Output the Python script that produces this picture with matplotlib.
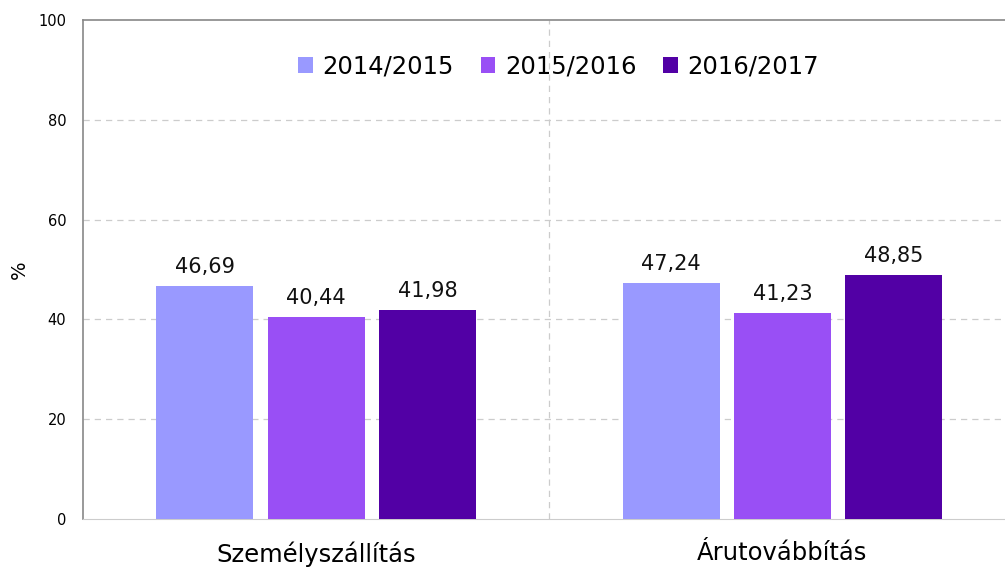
import numpy as np
import matplotlib
matplotlib.use('Agg')
import matplotlib.pyplot as plt

# adatok
kategoriak = ['Személyszállítás', 'Árutovábbítás']
evek = ['2014/2015', '2015/2016', '2016/2017']
ertekek_2014 = [46.69, 47.24]
ertekek_2015 = [40.44, 41.23]
ertekek_2016 = [41.98, 48.85]
szinek = ['#9999ff', '#994ff5', '#5200a5']

sorozatok = [ertekek_2014, ertekek_2015, ertekek_2016]

fig = plt.figure(figsize=(10.05, 5.67), dpi=100)
ax = fig.add_axes([0.0826, 0.0847, 0.928, 0.880])

x = np.arange(len(kategoriak))
w = 0.208
lepes = 0.239

for i, (vals, szin, ev) in enumerate(zip(sorozatok, szinek, evek)):
    pos = x + (i - 1) * lepes
    ax.bar(pos, vals, w, color=szin, label=ev, zorder=3)
    for p, v in zip(pos, vals):
        ax.text(p, v + 1.8, ('%.2f' % v).replace('.', ','), ha='center', va='bottom',
                fontsize=15, color='#111111', zorder=4)

ax.set_xlim(-0.5, 1.5)
ax.set_ylim(0, 100)
ax.set_yticks([0, 20, 40, 60, 80, 100])
ax.set_xticks(x)
ax.set_xticklabels(kategoriak, fontsize=17.5)
ax.tick_params(axis='y', labelsize=10.5, length=0, pad=12)
ax.tick_params(axis='x', length=0, pad=16)
ax.set_ylabel('%', fontsize=14, labelpad=7)

# racs
for yv in [20, 40, 60, 80]:
    ax.axhline(yv, color='#cccccc', linestyle=(0, (5, 4)), linewidth=0.9, zorder=1)
ax.axvline(0.5, color='#cccccc', linestyle=(0, (5, 4)), linewidth=0.9, zorder=1)

ax.spines['left'].set_color('#888888')
ax.spines['top'].set_color('#888888')
ax.spines['bottom'].set_color('#cccccc')
ax.spines['right'].set_visible(False)
for s in ['left', 'top']:
    ax.spines[s].set_linewidth(1.2)

leg = ax.legend(loc='upper center', bbox_to_anchor=(0.51, 0.975), ncol=3, frameon=False,
                fontsize=17.5, handlelength=0.6, handleheight=0.6, handletextpad=0.4,
                columnspacing=1.1)

plt.savefig('out.png', dpi=100)
